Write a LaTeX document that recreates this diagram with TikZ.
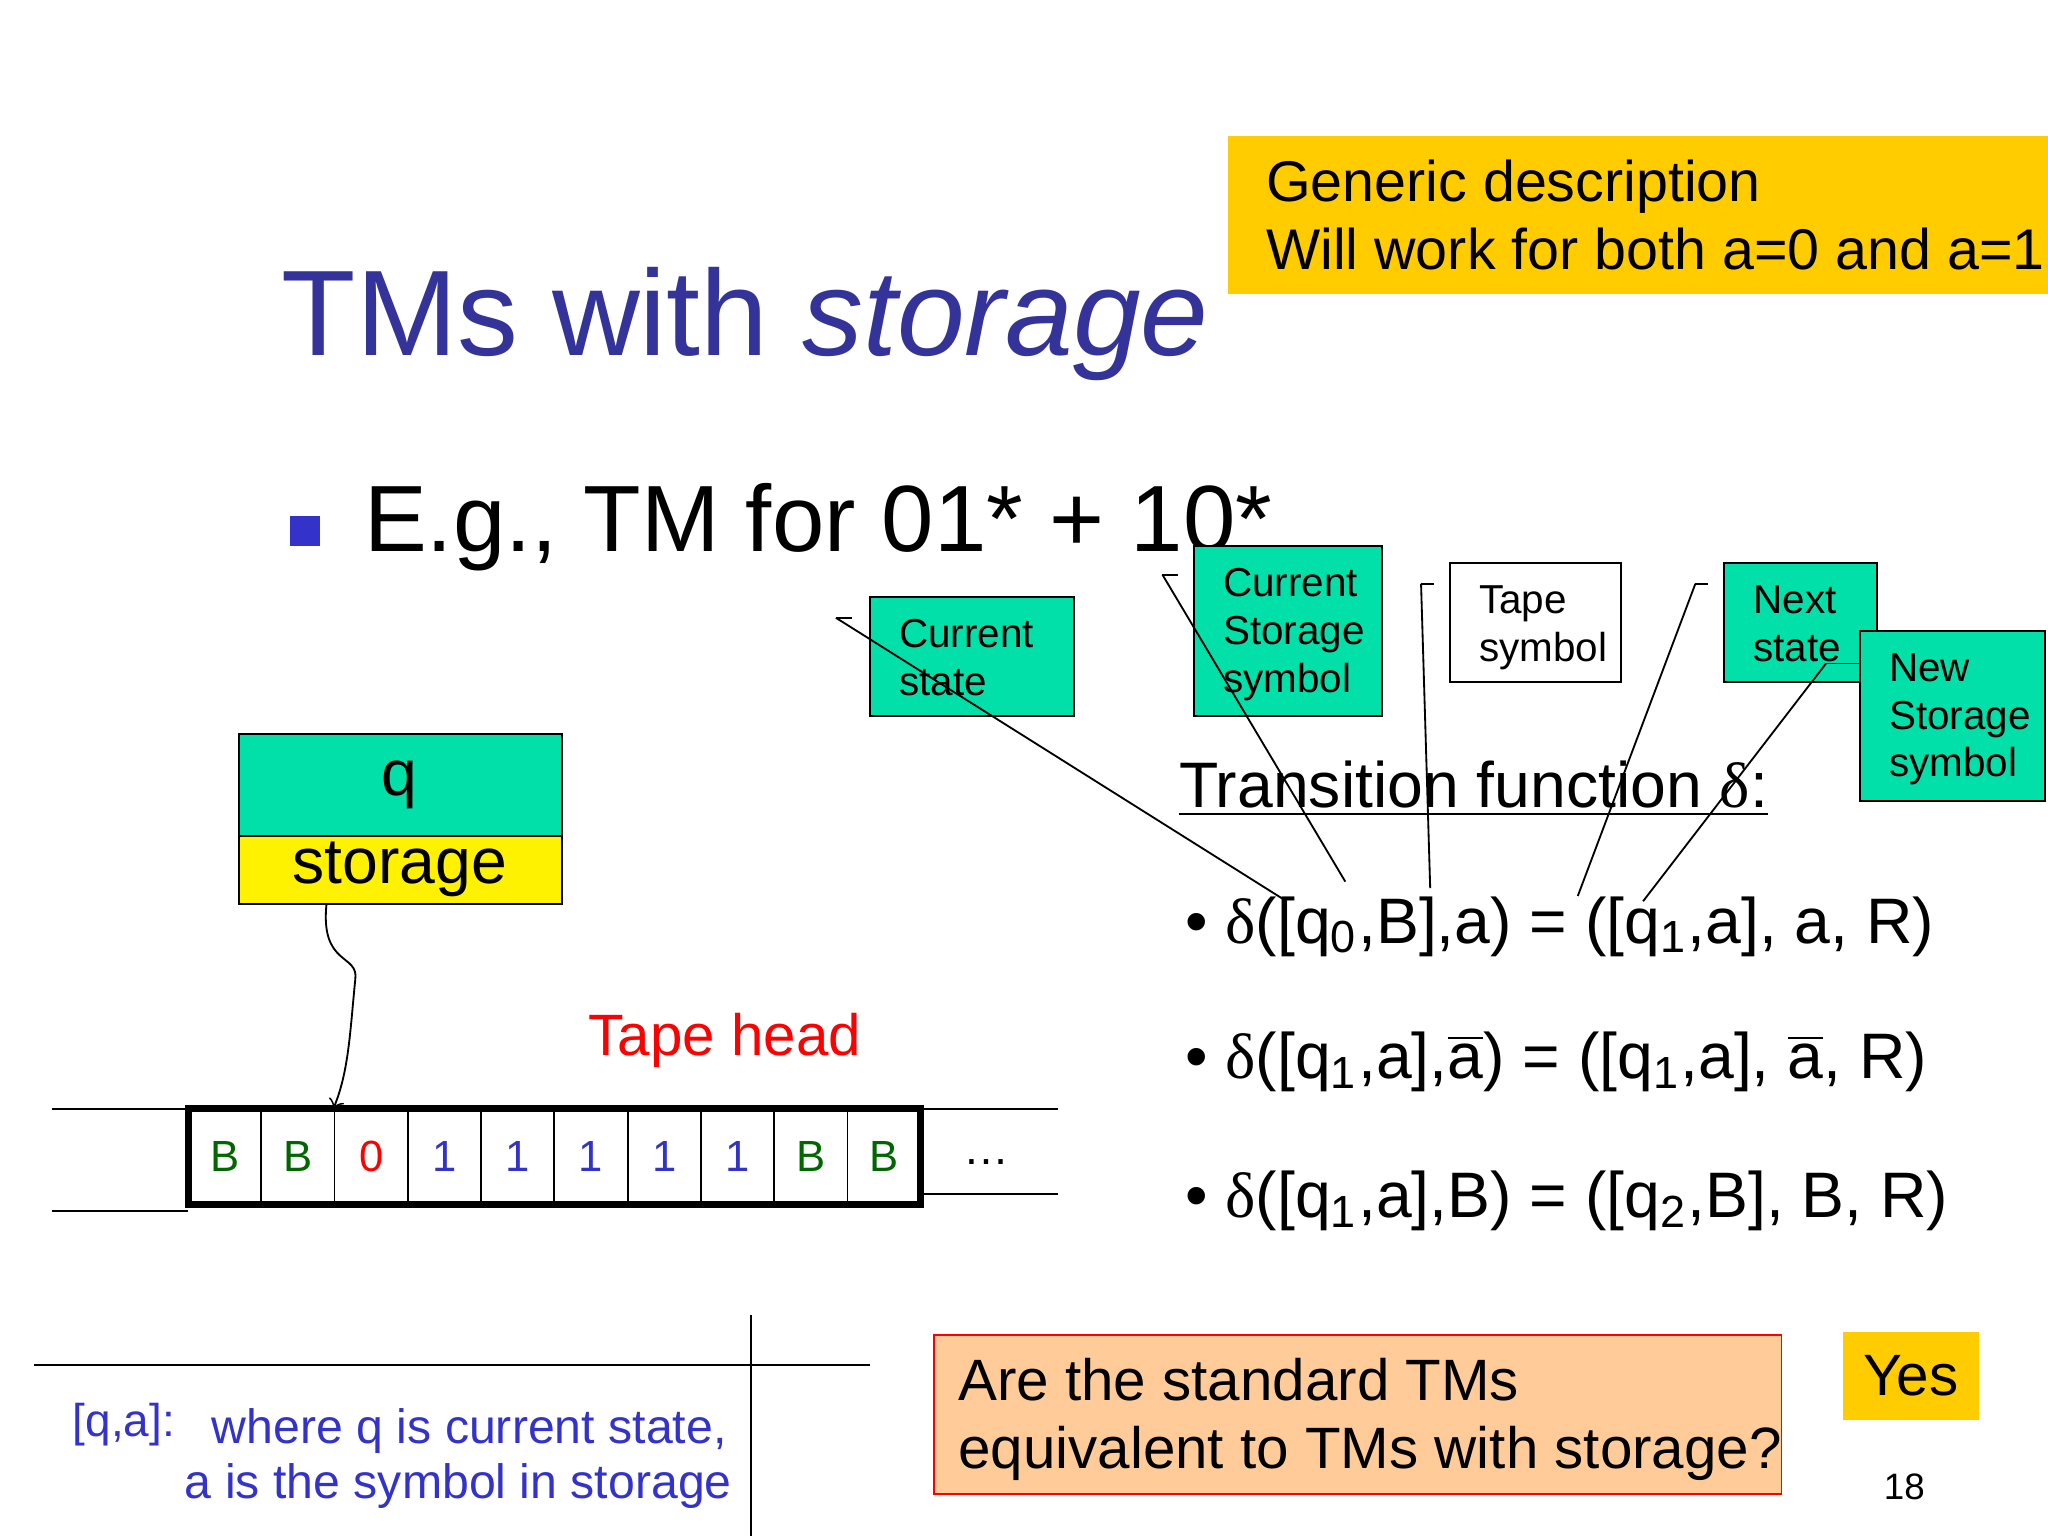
\documentclass[tikz,border=0pt]{standalone}
\usepackage{fontspec}
\setmainfont{Liberation Sans}
\newfontfamily\dfont{Liberation Serif}
\definecolor{tgreen}{HTML}{00E0A8}
\definecolor{gold}{HTML}{FFCC00}
\definecolor{titleblue}{HTML}{333399}
\definecolor{txtblue}{HTML}{3333CC}
\definecolor{peach}{HTML}{FFCC99}
\definecolor{dgreen}{HTML}{006600}
\newcommand{\dl}{{\dfont δ}}
\newcommand{\ab}{$\overline{\mbox{a}}$}
\begin{document}
\begin{tikzpicture}[x=0.01cm,y=-0.01cm,
  lab/.style={draw,fill=tgreen,align=left,anchor=north west,inner sep=0pt,font=\fontsize{8.8}{10.6}\selectfont},
  cell/.style={draw,minimum width=56.1*0.01cm,minimum height=73*0.01cm,inner sep=0pt,font=\fontsize{9.5}{11}\selectfont},
  tline/.style={font=\fontsize{14}{16}\selectfont,anchor=base west}]
\useasboundingbox (0,0) rectangle (1568,1176);
% yellow box
\fill[gold] (940,104) rectangle (1568,225);
\node[anchor=base west,align=left,font=\fontsize{12.5}{15}\selectfont] (gen) at (957,154) {Generic description};
\node[anchor=base west,font=\fontsize{12.5}{15}\selectfont] (gen2) at (957,206) {Will work for both a=0 and a=1};
% title
\node[anchor=base west,text=titleblue,font=\fontsize{26.5}{30}\selectfont,inner sep=0pt] (title) at (215,272) {TMs with \textit{storage}};
\fill[txtblue] (222,395) rectangle (245,418);
\node[anchor=base west,font=\fontsize{20.5}{24}\selectfont,inner sep=0pt] (eg) at (278,422) {E.g., TM for 01* + 10*};
% label boxes
\draw[fill=tgreen] (666,457) rectangle (822,548);
\node[anchor=north west,align=left,font=\fontsize{8.8}{10.4}\selectfont] (cs) at (676,462) {Current\\state};
\draw[fill=tgreen] (914,418) rectangle (1058,548);
\node[anchor=north west,align=left,font=\fontsize{8.8}{10.4}\selectfont] (css) at (924,423) {Current\\Storage\\symbol};
\draw (1110,431) rectangle (1241,522);
\node[anchor=north west,align=left,font=\fontsize{8.8}{10.4}\selectfont] (ts) at (1120,436) {Tape\\symbol};
\draw[fill=tgreen] (1320,431) rectangle (1437,522);
\node[anchor=north west,align=left,font=\fontsize{8.8}{10.4}\selectfont] (ns) at (1330,436) {Next\\state};
\draw[fill=tgreen] (1424,483) rectangle (1566,613);
\node[anchor=north west,align=left,font=\fontsize{8.8}{10.4}\selectfont] (nss) at (1434,488) {New\\Storage\\symbol};
% callout lines
\coordinate (c1a) at (640,473); \coordinate (c1b) at (652,473); \coordinate (c1c) at (985,690);
\draw (c1a) -- (c1b); \draw (c1a) -- (c1c);
\coordinate (c2a) at (890,440); \coordinate (c2b) at (902,440); \coordinate (c2c) at (1030,675);
\draw (c2a) -- (c2b); \draw (c2a) -- (c2c);
\coordinate (c3a) at (1088,447); \coordinate (c3b) at (1098,447); \coordinate (c3c) at (1095,680);
\draw (c3a) -- (c3b); \draw (c3a) -- (c3c);
\coordinate (c4a) at (1298,447); \coordinate (c4b) at (1308,447); \coordinate (c4c) at (1208,686);
\draw (c4a) -- (c4b); \draw (c4a) -- (c4c);
\coordinate (c5a) at (1398,508); \coordinate (c5b) at (1424,508); \coordinate (c5c) at (1258,690);
\draw (c5a) -- (c5b); \draw (c5a) -- (c5c);
% q / storage
\draw[fill=tgreen] (183,562) rectangle (430,640);
\node[font=\fontsize{14}{16}\selectfont] (q) at (306,601) {q};
\draw[fill=yellow] (183,640) rectangle (430,692);
\node[font=\fontsize{14}{16}\selectfont] (st) at (306,666) {storage};
% transition function
\node[tline,inner sep=0pt] (tf) at (902,618) {\underline{Transition function \dl:}};
\node[tline] (t1) at (895,722) {• \dl([q\textsubscript{0},B],a) = ([q\textsubscript{1},a], a, R)};
\node[tline] (t2) at (895,826) {• \dl([q\textsubscript{1},a],\ab) = ([q\textsubscript{1},a], \ab, R)};
\node[tline] (t3) at (895,932) {• \dl([q\textsubscript{1},a],B) = ([q\textsubscript{2},B], B, R)};
% tape
\node[text=red,anchor=base west,font=\fontsize{12.7}{15}\selectfont,inner sep=0pt] (th) at (450,808) {Tape head};
\foreach \i/\s/\c in {0/B/dgreen,1/B/dgreen,2/0/red,3/1/txtblue,4/1/txtblue,5/1/txtblue,6/1/txtblue,7/1/txtblue,8/B/dgreen,9/B/dgreen}
  \node[cell,text=\c] (cell\i) at (172+56.1*\i,885.5) {\s};
\draw[line width=1.5pt] (144,849) rectangle (705,922);
\draw (40,849) -- (144,849); \draw (40,927) -- (144,927);
\draw (705,849) -- (810,849); \draw (705,914) -- (810,914);
\node (dots) at (755,890) {\dots};
\draw[->] (250,692) .. controls (245,740) and (275,730) .. (272,750) .. controls (268,790) and (267,820) .. (cell2.north west);
% bottom
\draw (26,1045) -- (666,1045); \draw (575,1007) -- (575,1176);
\node[anchor=base west,text=txtblue,font=\fontsize{10}{12}\selectfont,inner sep=0pt] (qa) at (55,1100) {[q,a]:};
\node[anchor=base east,text=txtblue,font=\fontsize{10.5}{12}\selectfont,inner sep=0pt] (w1) at (557,1105) {where q is current state,};
\node[anchor=base east,text=txtblue,font=\fontsize{10.5}{12}\selectfont,inner sep=0pt] (w2) at (561,1147) {a is the symbol in storage};
\draw[red,fill=peach] (715,1022) rectangle (1364,1144);
\node[anchor=base west,font=\fontsize{12.7}{15}\selectfont,inner sep=0pt] (q1) at (733,1072) {Are the standard TMs};
\node[anchor=base west,font=\fontsize{12.7}{15}\selectfont,inner sep=0pt] (q2) at (733,1124) {equivalent to TMs with storage?};
\fill[gold] (1411,1020) rectangle (1515,1087);
\node[font=\fontsize{12.7}{15}\selectfont] (yes) at (1463,1053) {Yes};
\node[font=\fontsize{8}{10}\selectfont] (pg) at (1458,1138) {18};
\end{tikzpicture}
\end{document}
